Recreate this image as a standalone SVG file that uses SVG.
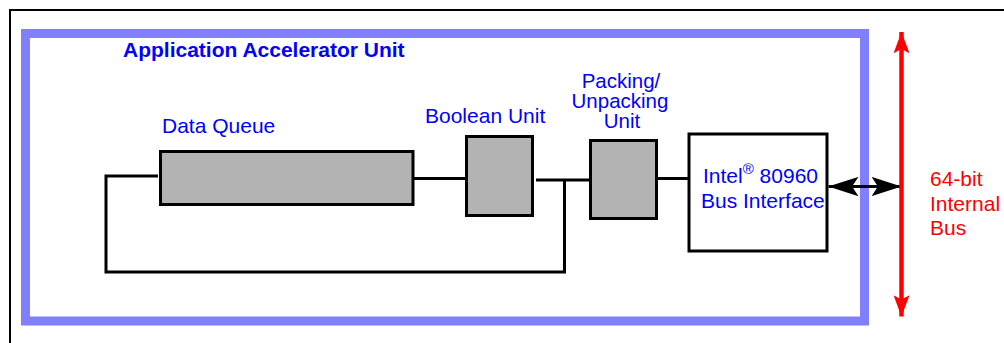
<svg xmlns="http://www.w3.org/2000/svg" width="1004" height="343" viewBox="0 0 1004 343">
<defs>
<style>
.lbl{font-family:"Liberation Sans",Arial,sans-serif;font-size:21px;fill:#0000ff}
.stk{font-family:"Liberation Sans",Arial,sans-serif;font-size:20.5px;fill:#0000ff}
.red{font-family:"Liberation Sans",Arial,sans-serif;font-size:21px;fill:#ff0000}
.box{fill:#b3b3b3;stroke:#000;stroke-width:3}
.wire{fill:none;stroke:#000;stroke-width:3}
</style>
<marker id="ab" markerUnits="userSpaceOnUse" markerWidth="30" markerHeight="20" refX="28" refY="9" orient="auto-start-reverse" viewBox="0 0 28 18">
<path d="M0,0 L28,9 L0,18 L6,9 Z" fill="#000"/>
</marker>
<marker id="ar" markerUnits="userSpaceOnUse" markerWidth="22" markerHeight="16" refX="20" refY="7.5" orient="auto-start-reverse" viewBox="0 0 20 15">
<path d="M0,0 L20,7.5 L0,15 L4,7.5 Z" fill="#ff0000"/>
</marker>
</defs>
<rect width="1004" height="343" fill="#fff"/>
<g id="frame">
<path d="M10,343 V10 H1004" fill="none" stroke="#000" stroke-width="2"/>
</g>
<g id="aau">
<rect x="25.5" y="33.5" width="839" height="287.5" fill="none" stroke="#8080ff" stroke-width="9"/>
<text x="123" y="57" class="lbl" font-weight="bold">Application Accelerator Unit</text>
</g>
<g id="connectors">
<polyline class="wire" points="158,176 106,176 106,272 566,272"/>
<line class="wire" x1="564.5" y1="180" x2="564.5" y2="272"/>
<line class="wire" x1="414" y1="178.5" x2="466" y2="178.5"/>
<line class="wire" x1="536" y1="180" x2="590" y2="180"/>
<line class="wire" x1="657" y1="178.5" x2="689" y2="178.5"/>
<line x1="828.5" y1="186.5" x2="901.5" y2="186.5" stroke="#000" stroke-width="3" marker-start="url(#ab)" marker-end="url(#ab)"/>
</g>
<g id="data-queue">
<rect class="box" x="160.5" y="151.5" width="252.5" height="53"/>
<text x="162" y="133" class="lbl">Data Queue</text>
</g>
<g id="boolean-unit">
<rect class="box" x="466.5" y="136.5" width="66" height="79"/>
<text x="425" y="123" class="lbl">Boolean Unit</text>
</g>
<g id="packing-unit">
<rect class="box" x="590.5" y="140.5" width="66" height="78"/>
<text x="621" y="88" class="stk" text-anchor="middle">Packing/</text>
<text x="620" y="108" class="stk" text-anchor="middle">Unpacking</text>
<text x="622" y="128" class="stk" text-anchor="middle">Unit</text>
</g>
<g id="bus-interface">
<rect x="689" y="134" width="138" height="117" fill="#fff" stroke="#000" stroke-width="3"/>
<text x="703" y="183" class="lbl">Intel<tspan font-size="15" dy="-9">®</tspan><tspan dy="9"> 80960</tspan></text>
<text x="701" y="208" class="lbl">Bus Interface</text>
</g>
<g id="internal-bus">
<line x1="901.5" y1="32" x2="901.5" y2="316.5" stroke="#ff0000" stroke-width="4.5" marker-start="url(#ar)" marker-end="url(#ar)"/>
<text x="930" y="186" class="red">64-bit</text>
<text x="930" y="211" class="red">Internal</text>
<text x="930" y="235" class="red">Bus</text>
</g>
</svg>
